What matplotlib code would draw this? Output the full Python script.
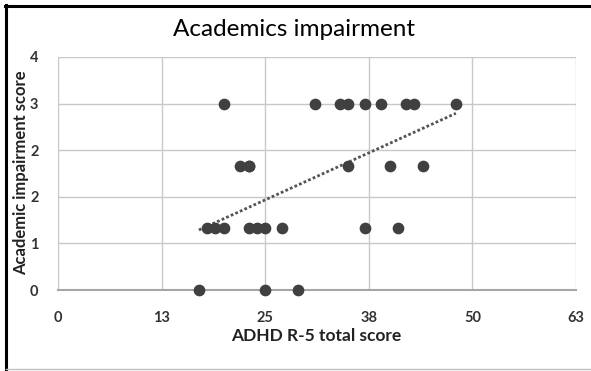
import numpy as np
import matplotlib
matplotlib.use("Agg")
import matplotlib.pyplot as plt
from matplotlib.lines import Line2D
from matplotlib.ticker import MultipleLocator, FuncFormatter
import math

# Data
x_score3 = [20, 31, 34, 35, 37, 39, 42, 43, 48]
x_score2 = [22, 23, 23, 35, 40, 44]
x_score1 = [18, 19, 20, 23, 24, 25, 27, 37, 41]
x_score0 = [17, 25, 29]

title = "Academics impairment"
xlabel = "ADHD R-5 total score"
ylabel = "Academic impairment score"

xs = np.array(x_score3 + x_score2 + x_score1 + x_score0, dtype=float)
ys = np.array([3]*len(x_score3) + [2]*len(x_score2) + [1]*len(x_score1) + [0]*len(x_score0), dtype=float)

W, H = 591, 371
fig = plt.figure(figsize=(W/100, H/100), dpi=100)
fig.patch.set_facecolor("white")

ax = fig.add_axes([58/W, 1-290/H, (576-58)/W, (290-57)/H])
ax.set_xlim(0, 62.5)
ax.set_ylim(0, 3.75)
ax.xaxis.set_major_locator(MultipleLocator(12.5))
ax.yaxis.set_major_locator(MultipleLocator(0.75))
fmt = FuncFormatter(lambda v, p: str(int(math.floor(v + 0.5 + 1e-9))))
ax.xaxis.set_major_formatter(fmt)
ax.yaxis.set_major_formatter(fmt)
ax.grid(True, color="#c8c8c8", linewidth=1.0)
ax.set_axisbelow(True)
for s in ["top", "right", "left"]:
    ax.spines[s].set_visible(False)
ax.spines["bottom"].set_color("#a6a6a6")
ax.spines["bottom"].set_linewidth(1.5)
ax.tick_params(axis="x", length=0, pad=15, labelsize=10.5, labelcolor="#333333")
ax.tick_params(axis="y", length=0, pad=14, labelsize=10.5, labelcolor="#333333")
for lab in ax.get_xticklabels() + ax.get_yticklabels():
    lab.set_fontweight("bold")
    lab.set_family("Lato")

ax.scatter(xs, ys, s=55, color="#404040", zorder=3, clip_on=False)

# Linear trendline
m, b = np.polyfit(xs, ys, 1)
tx = np.array([xs.min(), xs.max()])
ax.plot(tx, m*tx + b, linestyle=(0, (1, 0.8)), color="#555555", linewidth=2.0, zorder=2)

fig.text(294/W, 1-30/H, title, ha="center", va="center", fontsize=17.5, family="Lato", color="#000000")
fig.text(316/W, 1-336/H, xlabel, ha="center", va="center", fontsize=12.5, fontweight="bold", family="Lato", color="#222222")
fig.text(21/W, 1-173/H, ylabel, ha="center", va="center", rotation=90, fontsize=12, fontweight="bold", family="Lato", color="#222222")

# frame
fig.add_artist(Line2D([5/W, 1], [1-5.5/H, 1-5.5/H], transform=fig.transFigure, color="black", linewidth=2.2))
fig.add_artist(Line2D([6/W, 6/W], [0, 1-5/H], transform=fig.transFigure, color="black", linewidth=2.2))
fig.add_artist(Line2D([6/W, 1], [1-368.5/H, 1-368.5/H], transform=fig.transFigure, color="#bfbfbf", linewidth=1))

fig.savefig("out.png", dpi=100)
